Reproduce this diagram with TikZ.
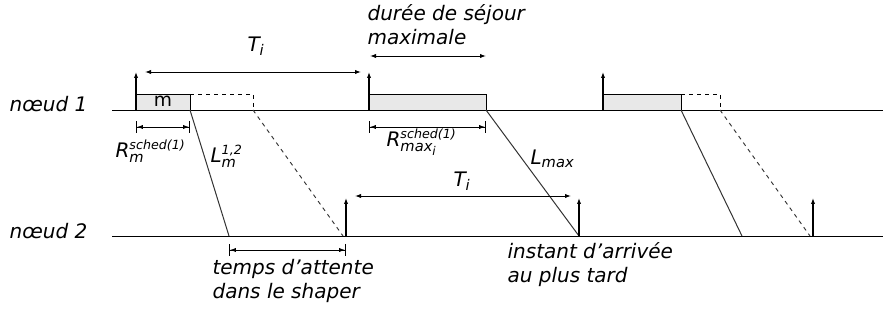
\documentclass[tikz,border=0pt]{standalone}
\usepackage{amsmath}
\usepackage{fontspec}
\setmainfont{DejaVu Sans}
\usetikzlibrary{arrows.meta}

\tikzset{
  lbl/.style={font=\itshape\fontsize{15}{18}\selectfont, inner sep=1pt},
  txt/.style={lbl, align=left, anchor=west},
  axis/.style={line width=0.7pt},
  rel/.style={-{Latex[length=4.5pt,width=3.2pt]}, line width=0.8pt},
  span/.style={{Latex[length=4.5pt,width=3.2pt]}-{Latex[length=4.5pt,width=3.2pt]}, line width=0.7pt},
  dim/.style={{Bar[width=9pt]Latex[length=4.5pt,width=3.2pt]}-{Latex[length=4.5pt,width=3.2pt]Bar[width=9pt]}, line width=0.7pt},
  slot/.style={draw, fill=gray!18, line width=0.7pt},
  late/.style={dashed, line width=0.7pt},
  hop/.style={black!80, line width=0.75pt},
}
\newcommand{\supsub}[3]{#1$^{\text{\fontsize{9.5}{9.5}\selectfont #2}}_{\text{\fontsize{11}{11}\selectfont #3}}$}

\begin{document}
\begin{tikzpicture}[x=0.75pt, y=-0.75pt]
  \useasboundingbox (0,0) rectangle (883,320);

  % Lignes de temps des deux noeuds
  \node[txt] (n1) at (8,104) {nœud 1};
  \node[txt] (n2) at (8,231) {nœud 2};
  \coordinate (a1) at (112,110);
  \coordinate (b1) at (883,110);
  \coordinate (a2) at (112,236);
  \coordinate (b2) at (883,236);
  \draw[axis] (a1) -- (b1);
  \draw[axis] (a2) -- (b2);

  % Premiere trame (m) et son retard possible
  \coordinate (s1) at (136,110);
  \coordinate (e1) at (190,110);
  \coordinate (d1) at (253,110);
  \draw[slot] (s1) rectangle (190,94);
  \node[lbl, font=\fontsize{14}{14}\selectfont] (m) at (163,101) {m};
  \draw[late] (190,94) -- (253,94) -- (d1);
  \coordinate (r1) at (136,72);
  \draw[rel] (s1) -- (r1);

  % Deuxieme trame : duree de sejour maximale
  \coordinate (s2) at (369,110);
  \coordinate (e2) at (486,110);
  \draw[slot] (s2) rectangle (486,94);
  \coordinate (r2) at (369,72);
  \draw[rel] (s2) -- (r2);

  % Troisieme trame
  \coordinate (s3) at (603,110);
  \coordinate (e3) at (681,110);
  \coordinate (d3) at (720,110);
  \draw[slot] (s3) rectangle (681,94);
  \draw[late] (681,94) -- (720,94) -- (d3);
  \coordinate (r3) at (603,72);
  \draw[rel] (s3) -- (r3);

  % Arrivees sur le noeud 2
  \coordinate (f1) at (229,236);
  \coordinate (g1) at (343,236);
  \coordinate (f2) at (579,236);
  \coordinate (f3) at (742,236);
  \coordinate (g3) at (810,236);
  \draw[hop] (e1) -- (f1);
  \draw[hop, late] (d1) -- (g1);
  \draw[hop] (e2) -- (f2);
  \draw[hop] (e3) -- (f3);
  \draw[hop, late] (d3) -- (g3);

  % Sorties du shaper
  \coordinate (o1) at (346,236);
  \coordinate (o2) at (579,236);
  \coordinate (o3) at (813,236);
  \draw[rel] (o1) -- (346,198);
  \draw[rel] (o2) -- (579,198);
  \draw[rel] (o3) -- (813,198);

  % Periodes T_i
  \coordinate (t1) at (145,72);
  \coordinate (t2) at (361,72);
  \draw[span] (t1) -- (t2);
  \node[lbl] (ti1) at (256,46) {T$_{\text{\fontsize{11}{11}\selectfont i}}$};
  \coordinate (t3) at (355,196);
  \coordinate (t4) at (571,196);
  \draw[span] (t3) -- (t4);
  \node[lbl] (ti2) at (462,181) {T$_{\text{\fontsize{11}{11}\selectfont i}}$};

  % Duree de sejour maximale
  \coordinate (u1) at (370,56);
  \coordinate (u2) at (486,56);
  \draw[span] (u1) -- (u2);
  \node[txt] (sej) at (366,25) {durée de séjour\\maximale};

  % Temps de reponse
  \coordinate (v1) at (136,127);
  \coordinate (v2) at (190,127);
  \draw[dim] (v1) -- (v2);
  \node[txt] (rm) at (114,151) {\supsub{R}{sched(1)}{m}};
  \coordinate (w1) at (369,127);
  \coordinate (w2) at (486,127);
  \draw[dim] (w1) -- (w2);
  \node[txt] (rmax) at (385,142) {\supsub{R}{sched(1)}{max$_{\text{\fontsize{9}{9}\selectfont i}}$}};

  % Latences
  \node[txt] (lm) at (209,156) {L$^{\text{\fontsize{9.5}{9.5}\selectfont 1,2}}_{\text{\fontsize{11}{11}\selectfont m}}$};
  \node[txt] (lmax) at (529,159) {L$_{\text{\fontsize{11}{11}\selectfont max}}$};

  % Attente dans le shaper
  \coordinate (x1) at (229,250);
  \coordinate (x2) at (346,250);
  \draw[dim] (x1) -- (x2);
  \node[txt] (att) at (211,281) {temps d'attente\\dans le shaper};
  \node[txt] (arr) at (506,265) {instant d'arrivée\\au plus tard};
\end{tikzpicture}
\end{document}
